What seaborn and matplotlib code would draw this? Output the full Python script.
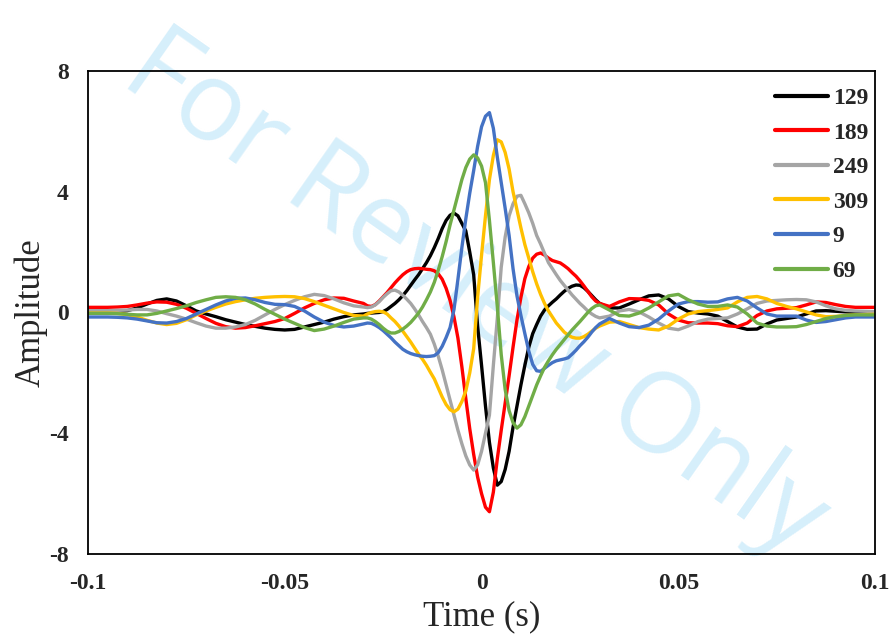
import numpy as np
import pandas as pd
import matplotlib
matplotlib.use("Agg")
import matplotlib.pyplot as plt
import seaborn as sns
from matplotlib.font_manager import FontProperties

# ---- data ----
t_left = np.round(np.arange(-0.1, -0.031, 0.0025), 4)
t_center = np.round(np.arange(-0.03, 0.0305, 0.001), 4)
t_right = np.round(np.arange(0.0325, 0.1001, 0.0025), 4)
time = np.concatenate([t_left, t_center, t_right])

s129 = [0.0, 0.0, 0.0, 0.02, 0.06, 0.15, 0.28, 0.4, 0.45, 0.38, 0.22, 0.05, -0.05, -0.14, -0.24, -0.32, -0.4, -0.46, -0.52, -0.56, -0.58, -0.56, -0.48, -0.4, -0.32, -0.22, -0.14, -0.08,
        -0.05, -0.03, -0.02, -0.01, 0.0, 0.03, 0.1, 0.2, 0.3, 0.42, 0.56, 0.72, 0.9, 1.08, 1.25, 1.45, 1.65, 1.88, 2.15, 2.45, 2.78, 3.05, 3.22, 3.29, 3.2, 2.95, 2.7, 2.0, 1.25, -0.45,
        -1.75, -3.1, -4.3, -5.15, -5.72, -5.6, -5.2, -4.6, -3.8, -3.1, -2.4, -1.75, -1.15, -0.7, -0.4, -0.12, 0.08, 0.22, 0.34, 0.45, 0.58, 0.7, 0.8, 0.87, 0.91, 0.9, 0.82, 0.7, 0.56, 0.42, 0.3,
        0.15, 0.15, 0.28, 0.42, 0.55, 0.58, 0.45, 0.2, 0.03, -0.02, -0.05, -0.12, -0.3, -0.48, -0.56, -0.55, -0.38, -0.25, -0.2, -0.15, -0.05, 0.05, 0.06, 0.04, 0.02, 0.0, 0.0, 0.0]

s189 = [0.17, 0.17, 0.17, 0.18, 0.2, 0.25, 0.31, 0.35, 0.34, 0.27, 0.14, -0.03, -0.2, -0.36, -0.47, -0.52, -0.5, -0.44, -0.37, -0.3, -0.2, -0.03, 0.15, 0.3, 0.42, 0.48, 0.47, 0.38,
        0.3, 0.22, 0.2, 0.26, 0.38, 0.52, 0.66, 0.82, 0.98, 1.12, 1.25, 1.35, 1.42, 1.45, 1.46, 1.45, 1.43, 1.42, 1.38, 1.28, 1.1, 0.8, 0.4, -0.15, -0.85, -1.8, -2.85, -3.85, -4.7, -5.45,
        -6.0, -6.45, -6.6, -5.95, -4.85, -3.9, -3.0, -2.1, -1.15, -0.25, 0.5, 1.12, 1.52, 1.8, 1.93, 1.97, 1.9, 1.8, 1.72, 1.68, 1.64, 1.55, 1.45, 1.32, 1.2, 1.05, 0.88, 0.7, 0.52, 0.38, 0.3,
        0.2, 0.35, 0.46, 0.45, 0.4, 0.25, -0.05, -0.25, -0.34, -0.35, -0.35, -0.37, -0.44, -0.47, -0.35, -0.1, 0.05, 0.12, 0.14, 0.16, 0.25, 0.35, 0.33, 0.26, 0.2, 0.17, 0.17, 0.17]

s249 = [0.06, 0.06, 0.06, 0.07, 0.08, 0.1, 0.1, 0.05, -0.04, -0.12, -0.22, -0.34, -0.45, -0.52, -0.52, -0.48, -0.4, -0.26, -0.08, 0.1, 0.26, 0.4, 0.52, 0.6, 0.56, 0.45, 0.32, 0.22,
        0.18, 0.16, 0.18, 0.25, 0.36, 0.5, 0.62, 0.72, 0.74, 0.68, 0.57, 0.44, 0.3, 0.12, -0.08, -0.3, -0.5, -0.72, -1.05, -1.45, -1.9, -2.4, -2.9, -3.4, -3.9, -4.35, -4.75, -5.05, -5.22, -5.05,
        -4.6, -4.0, -3.4, -1.75, -0.2, 1.5, 2.5, 3.2, 3.6, 3.85, 3.88, 3.6, 3.3, 2.95, 2.55, 2.27, 1.96, 1.65, 1.45, 1.25, 1.06, 0.9, 0.74, 0.58, 0.44, 0.3, 0.18, 0.05, -0.05, -0.13, -0.18,
        -0.12, 0.05, 0.1, 0.02, -0.15, -0.35, -0.52, -0.57, -0.45, -0.3, -0.22, -0.2, -0.18, -0.05, 0.12, 0.3, 0.38, 0.4, 0.42, 0.43, 0.42, 0.35, 0.22, 0.12, 0.07, 0.05, 0.04, 0.03]

s309 = [-0.02, -0.02, -0.02, -0.03, -0.07, -0.15, -0.26, -0.35, -0.4, -0.36, -0.24, -0.08, 0.05, 0.17, 0.28, 0.36, 0.42, 0.47, 0.5, 0.52, 0.53, 0.52, 0.46, 0.36, 0.24, 0.12, 0.0, -0.1,
        -0.12, -0.05, 0.0, 0.03, 0.04, 0.02, -0.05, -0.18, -0.3, -0.45, -0.62, -0.8, -0.98, -1.18, -1.38, -1.55, -1.75, -1.98, -2.2, -2.5, -2.8, -3.05, -3.22, -3.29, -3.2, -2.95, -2.6, -2.0, -1.2, 0.5,
        1.9, 3.2, 4.4, 5.2, 5.72, 5.65, 5.3, 4.75, 4.0, 3.4, 2.8, 2.25, 1.8, 1.35, 0.95, 0.6, 0.3, 0.05, -0.15, -0.35, -0.5, -0.65, -0.75, -0.82, -0.85, -0.85, -0.8, -0.72, -0.62, -0.52, -0.45,
        -0.32, -0.3, -0.4, -0.5, -0.55, -0.58, -0.45, -0.22, -0.05, 0.03, 0.06, 0.1, 0.15, 0.35, 0.5, 0.53, 0.45, 0.3, 0.2, 0.12, 0.02, -0.08, -0.14, -0.13, -0.1, -0.08, -0.07, -0.06]

s9 = [-0.15, -0.15, -0.15, -0.16, -0.18, -0.22, -0.28, -0.34, -0.35, -0.3, -0.2, -0.05, 0.1, 0.25, 0.38, 0.47, 0.48, 0.42, 0.33, 0.27, 0.26, 0.2, 0.05, -0.15, -0.32, -0.43, -0.48, -0.45,
      -0.38, -0.35, -0.36, -0.42, -0.5, -0.6, -0.72, -0.84, -0.98, -1.1, -1.22, -1.3, -1.36, -1.4, -1.43, -1.45, -1.46, -1.45, -1.43, -1.33, -1.12, -0.83, -0.5, 0.1, 1.1, 2.15, 3.1, 3.95, 4.7, 5.5,
      6.15, 6.5, 6.62, 6.1, 5.15, 4.3, 3.45, 2.55, 1.45, 0.55, -0.1, -0.7, -1.28, -1.72, -1.93, -1.95, -1.85, -1.75, -1.66, -1.6, -1.57, -1.54, -1.5, -1.38, -1.25, -1.1, -0.97, -0.82, -0.65, -0.5, -0.38,
      -0.2, -0.35, -0.47, -0.5, -0.42, -0.22, 0.05, 0.28, 0.36, 0.36, 0.34, 0.35, 0.45, 0.5, 0.38, 0.15, -0.05, -0.12, -0.12, -0.12, -0.25, -0.33, -0.3, -0.24, -0.18, -0.15, -0.15, -0.15]

s69 = [-0.03, -0.03, -0.03, -0.04, -0.06, -0.08, -0.08, -0.03, 0.05, 0.13, 0.22, 0.33, 0.42, 0.5, 0.52, 0.5, 0.42, 0.28, 0.1, -0.06, -0.22, -0.36, -0.5, -0.6, -0.55, -0.45, -0.33, -0.22,
       -0.18, -0.18, -0.22, -0.3, -0.4, -0.52, -0.62, -0.68, -0.68, -0.63, -0.55, -0.45, -0.33, -0.18, -0.02, 0.18, 0.42, 0.68, 1.0, 1.4, 1.85, 2.35, 2.9, 3.4, 3.9, 4.4, 4.8, 5.08, 5.22, 5.12,
       4.85, 4.3, 3.05, 1.65, 0.2, -1.4, -2.55, -3.25, -3.65, -3.83, -3.72, -3.45, -3.1, -2.75, -2.4, -2.1, -1.82, -1.6, -1.4, -1.22, -1.06, -0.9, -0.74, -0.58, -0.44, -0.3, -0.15, 0.0, 0.13, 0.22, 0.25,
       0.08, -0.1, -0.12, -0.02, 0.15, 0.35, 0.55, 0.6, 0.42, 0.28, 0.2, 0.2, 0.25, 0.18, -0.05, -0.35, -0.45, -0.48, -0.48, -0.47, -0.4, -0.3, -0.2, -0.14, -0.1, -0.08, -0.08, -0.08]

series_labels = ["129", "189", "249", "309", "9", "69"]
series_values = [s129, s189, s249, s309, s9, s69]
series_colors = ["#000000", "#FF0000", "#A5A5A5", "#FFC000", "#4472C4", "#70AD47"]

xticks = [-0.1, -0.05, 0, 0.05, 0.1]
xtick_labels = ["-0.1", "-0.05", "0", "0.05", "0.1"]
yticks = [-8, -4, 0, 4, 8]
ytick_labels = ["-8", "-4", "0", "4", "8"]

# ---- long-form table ----
frames = []
for lab, vals in zip(series_labels, series_values):
    frames.append(pd.DataFrame({"Time": time, "Amplitude": vals, "series": lab}))
df = pd.concat(frames, ignore_index=True)

# ---- style ----
sns.set_style("white")
plt.rcParams["font.family"] = ["Liberation Serif", "DejaVu Serif"]

fig = plt.figure(figsize=(8.93, 6.39), dpi=100)
ax = fig.add_axes([0.0985, 0.133, 0.8815, 0.756])
ax.set_facecolor("none")

# watermark behind the data
fig.text(0.531, 0.538, "For Review Only", rotation=-35, ha="center", va="center",
         fontsize=80, color="#D6EFFB", family="Open Sans", zorder=-1)

sns.lineplot(data=df, x="Time", y="Amplitude", hue="series", hue_order=series_labels,
             palette=dict(zip(series_labels, series_colors)), linewidth=2.4,
             estimator=None, errorbar=None, ax=ax)

ax.set_xlim(-0.1, 0.1)
ax.set_ylim(-8, 8)
ax.set_xticks(xticks)
ax.set_xticklabels(xtick_labels)
ax.set_yticks(yticks)
ax.set_yticklabels(ytick_labels)
ax.tick_params(length=0, pad=14, labelsize=17)
for lbl in ax.get_xticklabels() + ax.get_yticklabels():
    lbl.set_fontweight("bold")

for sp in ax.spines.values():
    sp.set_visible(True)
    sp.set_color("black")
    sp.set_linewidth(1.3)

ax.set_xlabel("Time (s)", fontsize=25, labelpad=4)
ax.set_ylabel("Amplitude", fontsize=25, labelpad=0.5)

handles, labels = ax.get_legend_handles_labels()
leg = ax.legend(handles, labels, loc="upper right", bbox_to_anchor=(1.0, 0.98), frameon=False,
                prop=FontProperties(family="Liberation Serif", weight="bold", size=17),
                handlelength=2.25, handletextpad=0.2, labelspacing=0.55,
                borderaxespad=0.0, borderpad=0.3)
for h in leg.get_lines():
    h.set_linewidth(3)

fig.savefig("out.png", dpi=100)
